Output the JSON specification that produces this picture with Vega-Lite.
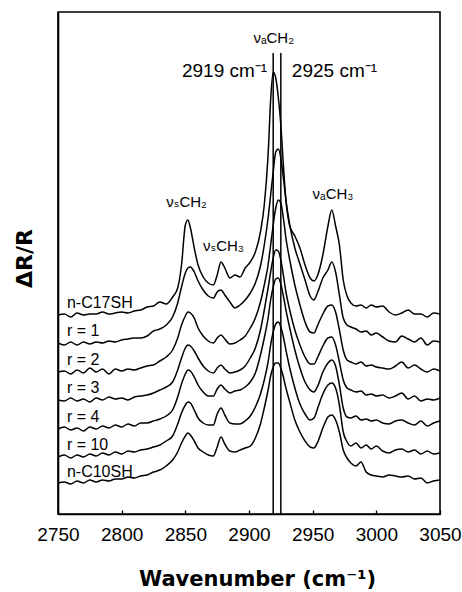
{
  "$schema": "https://vega.github.io/schema/vega-lite/v6.json",
  "width": 382,
  "height": 502,
  "autosize": {"type": "none"},
  "padding": {"left": 58, "top": 12, "right": 22, "bottom": 78},
  "background": "white",
  "config": {
    "view": {"stroke": "black", "strokeWidth": 1.6},
    "font": "Liberation Sans",
    "axis": {"domainColor": "black", "domainWidth": 1.6, "tickColor": "black", "labelColor": "black", "titleColor": "black", "grid": false}
  },
  "datasets": {
    "spectra": [
      {"wn":2750,"C17":199,"r1":171,"r2":142,"r3":114,"r4":85,"r10":57,"C10":31},
      {"wn":2755,"C17":200,"r1":169,"r2":143,"r3":113,"r4":87,"r10":59,"C10":32},
      {"wn":2760,"C17":197,"r1":172,"r2":140,"r3":116,"r4":84,"r10":56,"C10":30},
      {"wn":2765,"C17":201,"r1":169,"r2":144,"r3":113,"r4":86,"r10":59,"C10":33},
      {"wn":2770,"C17":199,"r1":172,"r2":141,"r3":115,"r4":83,"r10":57,"C10":31},
      {"wn":2775,"C17":200,"r1":170,"r2":146,"r3":112,"r4":87,"r10":60,"C10":34},
      {"wn":2780,"C17":200,"r1":172,"r2":142,"r3":116,"r4":85,"r10":58,"C10":32},
      {"wn":2785,"C17":202,"r1":171,"r2":145,"r3":114,"r4":88,"r10":61,"C10":34},
      {"wn":2790,"C17":200,"r1":173,"r2":140,"r3":117,"r4":86,"r10":59,"C10":33},
      {"wn":2795,"C17":201,"r1":172,"r2":145,"r3":115,"r4":89,"r10":62,"C10":35},
      {"wn":2800,"C17":202,"r1":174,"r2":143,"r3":116,"r4":87,"r10":60,"C10":35},
      {"wn":2805,"C17":201,"r1":175,"r2":145,"r3":114,"r4":90,"r10":63,"C10":37},
      {"wn":2810,"C17":203,"r1":176,"r2":144,"r3":117,"r4":88,"r10":62,"C10":36},
      {"wn":2815,"C17":204,"r1":176,"r2":146,"r3":118,"r4":91,"r10":64,"C10":38},
      {"wn":2820,"C17":207,"r1":178,"r2":148,"r3":119,"r4":91,"r10":65,"C10":39},
      {"wn":2825,"C17":208,"r1":183,"r2":149,"r3":121,"r4":93,"r10":67,"C10":42},
      {"wn":2830,"C17":212,"r1":185,"r2":153,"r3":124,"r4":95,"r10":69,"C10":44},
      {"wn":2835,"C17":210,"r1":189,"r2":157,"r3":127,"r4":98,"r10":73,"C10":48},
      {"wn":2840,"C17":217,"r1":197,"r2":164,"r3":132,"r4":104,"r10":78,"C10":54},
      {"wn":2844,"C17":226,"r1":211,"r2":176,"r3":144,"r4":117,"r10":90,"C10":62},
      {"wn":2847,"C17":249,"r1":227,"r2":189,"r3":156,"r4":130,"r10":101,"C10":71},
      {"wn":2850,"C17":289,"r1":241,"r2":198,"r3":166,"r4":140,"r10":109,"C10":78},
      {"wn":2852,"C17":294,"r1":246,"r2":202,"r3":169,"r4":144,"r10":112,"C10":81},
      {"wn":2854,"C17":286,"r1":247,"r2":201,"r3":168,"r4":143,"r10":111,"C10":79},
      {"wn":2857,"C17":266,"r1":242,"r2":196,"r3":163,"r4":137,"r10":104,"C10":73},
      {"wn":2860,"C17":249,"r1":233,"r2":186,"r3":156,"r4":129,"r10":96,"C10":66},
      {"wn":2864,"C17":237,"r1":224,"r2":178,"r3":148,"r4":122,"r10":91,"C10":62},
      {"wn":2868,"C17":231,"r1":218,"r2":173,"r3":143,"r4":118,"r10":89,"C10":59},
      {"wn":2872,"C17":229,"r1":216,"r2":171,"r3":141,"r4":118,"r10":89,"C10":58},
      {"wn":2875,"C17":239,"r1":222,"r2":176,"r3":146,"r4":125,"r10":100,"C10":67},
      {"wn":2878,"C17":252,"r1":224,"r2":179,"r3":149,"r4":129,"r10":106,"C10":77},
      {"wn":2881,"C17":246,"r1":219,"r2":175,"r3":145,"r4":125,"r10":99,"C10":70},
      {"wn":2885,"C17":236,"r1":212,"r2":170,"r3":141,"r4":121,"r10":91,"C10":63},
      {"wn":2889,"C17":239,"r1":206,"r2":171,"r3":142,"r4":123,"r10":90,"C10":62},
      {"wn":2893,"C17":237,"r1":209,"r2":174,"r3":144,"r4":124,"r10":90,"C10":64},
      {"wn":2897,"C17":246,"r1":214,"r2":178,"r3":148,"r4":127,"r10":93,"C10":66},
      {"wn":2901,"C17":252,"r1":221,"r2":186,"r3":156,"r4":132,"r10":98,"C10":68},
      {"wn":2905,"C17":262,"r1":231,"r2":196,"r3":166,"r4":141,"r10":107,"C10":76},
      {"wn":2909,"C17":282,"r1":248,"r2":212,"r3":184,"r4":159,"r10":120,"C10":90},
      {"wn":2912,"C17":309,"r1":269,"r2":229,"r3":204,"r4":176,"r10":134,"C10":106},
      {"wn":2915,"C17":359,"r1":296,"r2":249,"r3":226,"r4":196,"r10":152,"C10":124},
      {"wn":2917,"C17":414,"r1":319,"r2":269,"r3":242,"r4":214,"r10":169,"C10":138},
      {"wn":2919,"C17":442,"r1":342,"r2":289,"r3":256,"r4":227,"r10":182,"C10":147},
      {"wn":2921,"C17":436,"r1":362,"r2":306,"r3":264,"r4":235,"r10":190,"C10":151},
      {"wn":2923,"C17":417,"r1":365,"r2":314,"r3":263,"r4":236,"r10":192,"C10":151},
      {"wn":2925,"C17":389,"r1":356,"r2":311,"r3":254,"r4":230,"r10":187,"C10":146},
      {"wn":2927,"C17":349,"r1":336,"r2":296,"r3":239,"r4":218,"r10":177,"C10":137},
      {"wn":2929,"C17":314,"r1":314,"r2":276,"r3":222,"r4":204,"r10":164,"C10":126},
      {"wn":2932,"C17":288,"r1":289,"r2":254,"r3":204,"r4":186,"r10":146,"C10":112},
      {"wn":2936,"C17":278,"r1":266,"r2":229,"r3":184,"r4":164,"r10":126,"C10":94},
      {"wn":2940,"C17":266,"r1":250,"r2":209,"r3":169,"r4":146,"r10":110,"C10":82},
      {"wn":2944,"C17":249,"r1":234,"r2":192,"r3":157,"r4":132,"r10":100,"C10":73},
      {"wn":2948,"C17":236,"r1":218,"r2":182,"r3":150,"r4":124,"r10":94,"C10":67},
      {"wn":2951,"C17":233,"r1":214,"r2":181,"r3":150,"r4":122,"r10":96,"C10":66},
      {"wn":2954,"C17":239,"r1":222,"r2":189,"r3":157,"r4":128,"r10":106,"C10":72},
      {"wn":2958,"C17":259,"r1":236,"r2":200,"r3":168,"r4":142,"r10":120,"C10":86},
      {"wn":2962,"C17":288,"r1":244,"r2":208,"r3":176,"r4":151,"r10":129,"C10":97},
      {"wn":2965,"C17":304,"r1":252,"r2":209,"r3":177,"r4":154,"r10":131,"C10":99},
      {"wn":2968,"C17":288,"r1":242,"r2":202,"r3":169,"r4":148,"r10":126,"C10":94},
      {"wn":2971,"C17":269,"r1":219,"r2":184,"r3":152,"r4":129,"r10":109,"C10":82},
      {"wn":2974,"C17":234,"r1":196,"r2":164,"r3":134,"r4":106,"r10":82,"C10":64},
      {"wn":2977,"C17":218,"r1":189,"r2":154,"r3":126,"r4":97,"r10":72,"C10":56},
      {"wn":2980,"C17":211,"r1":187,"r2":152,"r3":124,"r4":96,"r10":68,"C10":51},
      {"wn":2984,"C17":208,"r1":185,"r2":150,"r3":122,"r4":98,"r10":71,"C10":48},
      {"wn":2988,"C17":209,"r1":182,"r2":152,"r3":123,"r4":94,"r10":66,"C10":52},
      {"wn":2992,"C17":206,"r1":183,"r2":148,"r3":119,"r4":95,"r10":69,"C10":42},
      {"wn":2996,"C17":209,"r1":179,"r2":149,"r3":120,"r4":93,"r10":65,"C10":39},
      {"wn":3000,"C17":207,"r1":181,"r2":147,"r3":118,"r4":94,"r10":68,"C10":38},
      {"wn":3005,"C17":208,"r1":177,"r2":146,"r3":119,"r4":91,"r10":63,"C10":37},
      {"wn":3010,"C17":202,"r1":173,"r2":145,"r3":116,"r4":90,"r10":61,"C10":39},
      {"wn":3015,"C17":199,"r1":172,"r2":148,"r3":118,"r4":93,"r10":64,"C10":38},
      {"wn":3020,"C17":201,"r1":178,"r2":152,"r3":121,"r4":94,"r10":65,"C10":37},
      {"wn":3025,"C17":204,"r1":175,"r2":146,"r3":115,"r4":91,"r10":62,"C10":38},
      {"wn":3030,"C17":200,"r1":172,"r2":149,"r3":118,"r4":89,"r10":64,"C10":35},
      {"wn":3035,"C17":200,"r1":176,"r2":145,"r3":113,"r4":93,"r10":60,"C10":36},
      {"wn":3040,"C17":197,"r1":169,"r2":142,"r3":115,"r4":88,"r10":63,"C10":31},
      {"wn":3045,"C17":201,"r1":173,"r2":145,"r3":114,"r4":91,"r10":60,"C10":33},
      {"wn":3050,"C17":200,"r1":172,"r2":143,"r3":116,"r4":93,"r10":61,"C10":34}
    ],
    "seriesLabels": [
      {"wn": 2757, "v": 211, "label": "n-C17SH"},
      {"wn": 2757, "v": 183, "label": "r = 1"},
      {"wn": 2757, "v": 154, "label": "r = 2"},
      {"wn": 2757, "v": 126, "label": "r = 3"},
      {"wn": 2757, "v": 97, "label": "r = 4"},
      {"wn": 2757, "v": 69, "label": "r = 10"},
      {"wn": 2757, "v": 42, "label": "n-C10SH"}
    ],
    "bands": [
      {"wn": 2851, "v": 312, "label": "νₛCH₂"},
      {"wn": 2880, "v": 268, "label": "νₛCH₃"},
      {"wn": 2966, "v": 320, "label": "νₐCH₃"},
      {"wn": 2919.4, "v": 476, "label": "νₐCH₂"}
    ],
    "marks": [
      {"wn": 2919, "label": "2919 cm⁻¹", "v": 443},
      {"wn": 2925, "label": "2925 cm⁻¹", "v": 443}
    ]
  },
  "layer": [
    {
      "data": {"name": "spectra"},
      "transform": [{"fold": ["C17", "r1", "r2", "r3", "r4", "r10", "C10"], "as": ["series", "dR"]}],
      "mark": {"type": "line", "color": "black", "strokeWidth": 1.5, "interpolate": "monotone"},
      "encoding": {
        "x": {"field": "wn", "type": "quantitative", "scale": {"domain": [2750, 3050], "nice": false, "zero": false},
          "axis": {"values": [2750, 2775, 2800, 2825, 2850, 2875, 2900, 2925, 2950, 2975, 3000, 3025, 3050],
            "labelExpr": "datum.value % 50 == 0 ? datum.label : ''", "format": "d",
            "tickSize": -4, "tickWidth": 1.3, "labelPadding": 15, "labelFontSize": 19, "labelFont": "Liberation Sans",
            "title": "Wavenumber (cm⁻¹)", "titleFontSize": 21, "titleFontWeight": "bold", "titleFont": "DejaVu Sans",
            "titleX": 199, "titleY": 71, "titleBaseline": "alphabetic", "titleAnchor": "middle", "titleAlign": "center", "labelFlush": false, "labelOverlap": false}},
        "y": {"field": "dR", "type": "quantitative", "scale": {"domain": [0, 502], "nice": false, "zero": false},
          "axis": {"labels": false, "ticks": false, "title": "ΔR/R", "titleFontSize": 22, "titleFontWeight": "bold", "titleFont": "DejaVu Sans", "titlePadding": 22, "titleY": 246}},
        "detail": {"field": "series", "type": "nominal"}
      }
    },
    {
      "data": {"name": "marks"},
      "mark": {"type": "rule", "color": "black", "strokeWidth": 1.5},
      "encoding": {
        "x": {"field": "wn", "type": "quantitative"},
        "y": {"datum": 0},
        "y2": {"datum": 461}
      }
    },
    {
      "data": {"name": "marks"},
      "transform": [{"filter": "datum.wn < 2920"}],
      "mark": {"type": "text", "align": "right", "baseline": "middle", "fontSize": 19, "font": "Liberation Sans", "dx": -6, "color": "black"},
      "encoding": {"x": {"field": "wn", "type": "quantitative"}, "y": {"field": "v", "type": "quantitative"}, "text": {"field": "label"}}
    },
    {
      "data": {"name": "marks"},
      "transform": [{"filter": "datum.wn > 2920"}],
      "mark": {"type": "text", "align": "left", "baseline": "middle", "fontSize": 19, "font": "Liberation Sans", "dx": 11, "color": "black"},
      "encoding": {"x": {"field": "wn", "type": "quantitative"}, "y": {"field": "v", "type": "quantitative"}, "text": {"field": "label"}}
    },
    {
      "data": {"name": "seriesLabels"},
      "mark": {"type": "text", "align": "left", "baseline": "middle", "fontSize": 16, "font": "Liberation Sans", "color": "black"},
      "encoding": {"x": {"field": "wn", "type": "quantitative"}, "y": {"field": "v", "type": "quantitative"}, "text": {"field": "label"}}
    },
    {
      "data": {"name": "bands"},
      "mark": {"type": "text", "align": "center", "baseline": "middle", "fontSize": 15, "font": "Liberation Sans, DejaVu Sans", "color": "black"},
      "encoding": {"x": {"field": "wn", "type": "quantitative"}, "y": {"field": "v", "type": "quantitative"}, "text": {"field": "label"}}
    }
  ]
}
